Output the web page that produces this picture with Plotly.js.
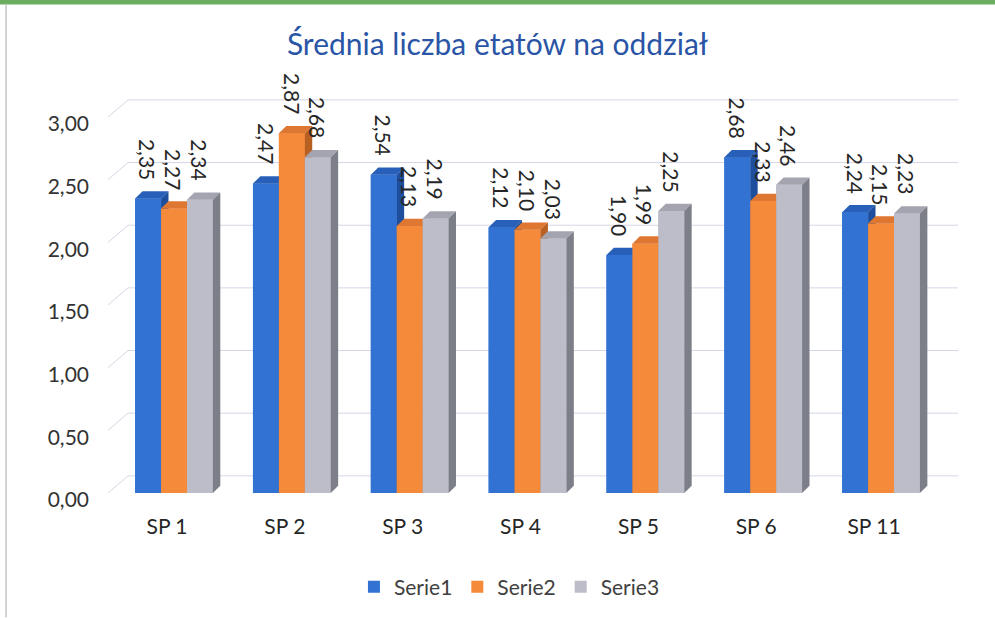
<!DOCTYPE html>
<html><head><meta charset="utf-8">
<script src="https://cdn.plot.ly/plotly-3.0.1.min.js"></script>
<style>html,body{margin:0;padding:0;background:#fff}#chart{width:995px;height:618px}</style>
</head><body><div id="chart"></div>
<script>
const categories = ['SP 1','SP 2','SP 3','SP 4','SP 5','SP 6','SP 11'];
const serie1 = [2.35, 2.47, 2.54, 2.12, 1.90, 2.68, 2.24];
const serie2 = [2.27, 2.87, 2.13, 2.10, 1.99, 2.33, 2.15];
const serie3 = [2.34, 2.68, 2.19, 2.03, 2.25, 2.46, 2.23];
const seriesNames = ['Serie1', 'Serie2', 'Serie3'];
const yTicks = [0, 0.5, 1, 1.5, 2, 2.5, 3];
const chartTitle = 'Średnia liczba etatów na oddział';

const seriesValues = [serie1, serie2, serie3];
const frontColors = ['#3172d2', '#f58a3b', '#bcbdc8'];
const topColors = ['#2860b9', '#de7731', '#a3a4af'];
const sideColors = ['#1e4f9e', '#b85f22', '#7c7e88'];
const W = 0.22, DX = 0.063, DY = 0.058;
const xIdx = categories.map((c, i) => i);
const off = k => -1.5 * W + k * W;
const fmt = v => v.toFixed(2).replace('.', ',');

const traces = [];
seriesValues.forEach((vals, k) => {
  traces.push({
    type: 'bar', x: xIdx, y: vals, name: seriesNames[k], width: W, offset: off(k),
    marker: {color: frontColors[k]}, hoverinfo: 'skip'
  });
});
function poly(xs, ys, color) {
  traces.push({type: 'scatter', mode: 'lines', x: xs, y: ys, fill: 'toself',
    fillcolor: color, line: {width: 0, color: color}, showlegend: false, hoverinfo: 'skip'});
}
seriesValues.forEach((vals, k) => {
  vals.forEach((v, i) => {
    const xl = i + off(k), xr = xl + W;
    poly([xl, xr, xr, xl, xl], [0, 0, v, v, 0], frontColors[k]);
    poly([xl, xl + DX, xr + DX, xr, xl], [v, v + DY, v + DY, v, v], topColors[k]);
    poly([xr, xr + DX, xr + DX, xr, xr], [0, DY, v + DY, v, 0], sideColors[k]);
  });
});

const annotations = [];
seriesValues.forEach((vals, k) => {
  vals.forEach((v, i) => {
    annotations.push({
      x: i + off(k) + W / 2, y: v, xref: 'x', yref: 'y', text: fmt(v), showarrow: false,
      textangle: 90, yanchor: 'bottom', xanchor: 'center', yshift: 17,
      font: {family: 'Lato, Carlito, sans-serif', size: 21, color: '#262626'}
    });
  });
});

const gx0 = -0.56, gx1 = -0.39, gx2 = 6.653, gdy = 0.137;
const shapes = [];
yTicks.forEach(t => {
  shapes.push({type: 'path', xref: 'x', yref: 'y', layer: 'below',
    path: `M${gx0},${t} L${gx1},${t + gdy} L${gx2},${t + gdy}`,
    line: {color: '#d5d6e6', width: 1}});
});
shapes.push({type: 'rect', xref: 'paper', yref: 'paper', x0: -0.13, x1: 1.05, y0: 1.218, y1: 1.26,
  fillcolor: '#6aae5e', line: {width: 0}, layer: 'above'});
shapes.push({type: 'line', xref: 'paper', yref: 'paper', x0: -0.109, x1: -0.109, y0: -0.31, y1: 1.22,
  line: {color: '#c4c4c4', width: 1.5}, layer: 'above'});

const layout = {
  width: 995, height: 618,
  margin: {l: 100, r: 33, t: 92, b: 125},
  paper_bgcolor: '#ffffff', plot_bgcolor: '#ffffff',
  separators: ', ',
  font: {family: 'Lato, Carlito, sans-serif', color: '#404040'},
  title: {text: chartTitle, x: 0.5, xref: 'container', y: 1 - 44 / 618, yref: 'container',
    xanchor: 'center', yanchor: 'middle',
    font: {family: 'Lato, Carlito, sans-serif', size: 30, color: '#2a55a6'}},
  barmode: 'overlay',
  showlegend: true,
  legend: {orientation: 'h', xref: 'container', yref: 'container', x: 0.512, y: 1 - 587 / 618,
    xanchor: 'center', yanchor: 'middle', font: {size: 21, color: '#404040'}, traceorder: 'normal'},
  xaxis: {range: [-0.628, 6.687], tickvals: xIdx, ticktext: categories, showgrid: false,
    zeroline: false, showline: false, ticks: '', ticklabelstandoff: 19, ticklabelshift: -7,
    tickfont: {size: 21, color: '#262626'}, fixedrange: true},
  yaxis: {range: [0, 3.2], tickvals: yTicks, tickformat: '.2f', showgrid: false, zeroline: false,
    showline: false, ticks: '', ticklabelstandoff: 10, ticklabelshift: 7,
    tickfont: {size: 21, color: '#333333'}, fixedrange: true},
  shapes: shapes,
  annotations: annotations
};
Plotly.newPlot('chart', traces, layout, {displayModeBar: false, staticPlot: true});
</script></body></html>
